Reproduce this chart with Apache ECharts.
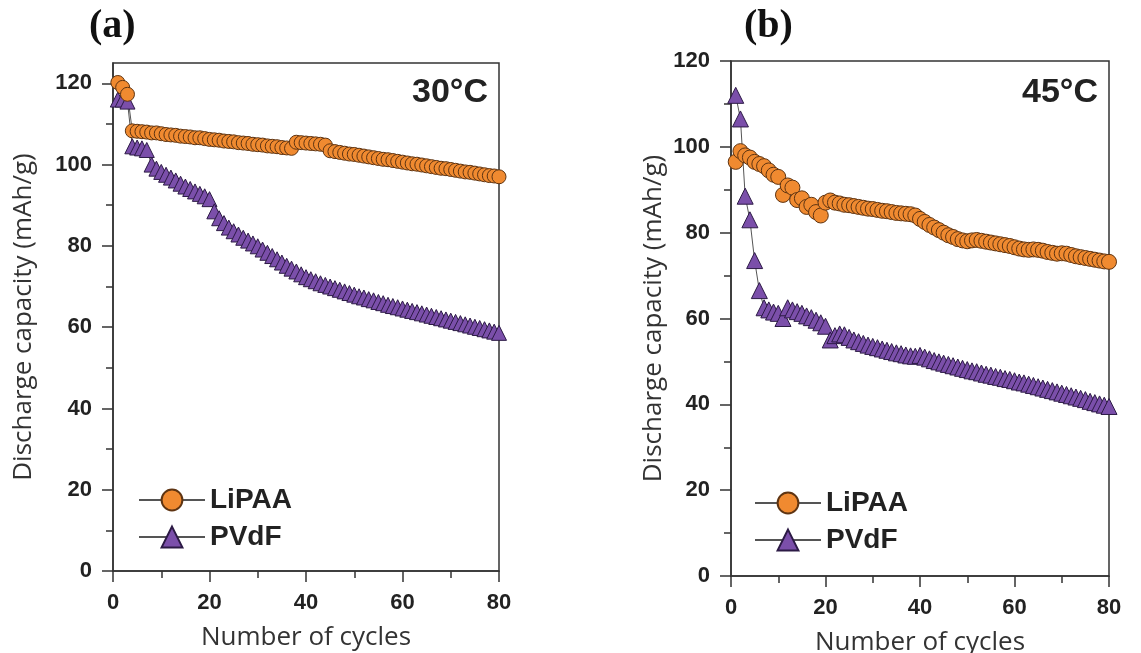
<!DOCTYPE html>
<html>
<head>
<meta charset="utf-8">
<title>Discharge capacity vs cycles</title>
<script src="https://cdn.jsdelivr.net/npm/echarts@6/dist/echarts.min.js"></script>
<style>
html, body { margin: 0; padding: 0; background: #fff; }
#chart { width: 1141px; height: 653px; }
</style>
</head>
<body>
<div id="chart"></div>
<script>
// cycle numbers (x)
const cycles = [1,2,3,4,5,6,7,8,9,10,11,12,13,14,15,16,17,18,19,20,
  21,22,23,24,25,26,27,28,29,30,31,32,33,34,35,36,37,38,39,40,
  41,42,43,44,45,46,47,48,49,50,51,52,53,54,55,56,57,58,59,60,
  61,62,63,64,65,66,67,68,69,70,71,72,73,74,75,76,77,78,79,80];

// (a) 30°C
const lipaa30 = [120.2,119.0,117.3,108.3,108.2,108.1,108.0,107.8,107.8,107.6,
  107.4,107.3,107.2,107.0,106.9,106.8,106.6,106.6,106.4,106.2,
  106.1,106.0,105.8,105.7,105.6,105.4,105.3,105.2,105.0,104.9,
  104.8,104.6,104.5,104.4,104.2,104.1,104.0,105.5,105.4,105.3,
  105.2,105.1,105.0,104.8,103.4,103.2,103.0,102.8,102.6,102.5,
  102.3,102.1,101.9,101.7,101.5,101.3,101.2,101.0,100.8,100.6,
  100.4,100.2,100.1,99.9,99.7,99.5,99.3,99.1,99.0,98.8,
  98.6,98.4,98.2,98.1,97.9,97.7,97.5,97.3,97.2,97.0];
const pvdf30 = [116.0,116.0,115.5,104.5,104.2,104.0,103.6,100.0,99.0,98.2,
  97.5,96.8,96.1,95.3,94.6,94.0,93.4,92.8,92.2,91.5,
  88.5,86.8,85.6,84.5,83.6,82.8,82.0,81.3,80.6,79.9,
  79.1,78.3,77.5,76.7,75.9,75.1,74.4,73.7,73.0,72.3,
  71.8,71.3,70.8,70.4,70.0,69.6,69.2,68.8,68.4,68.0,
  67.6,67.3,66.9,66.6,66.2,65.9,65.5,65.2,64.9,64.6,
  64.3,64.0,63.7,63.4,63.1,62.8,62.5,62.2,61.9,61.6,
  61.3,61.0,60.7,60.4,60.1,59.8,59.5,59.2,58.9,58.6];

// (b) 45°C
const lipaa45 = [96.5,99.0,98.0,97.5,96.5,96.0,95.5,94.5,93.5,93.0,
  88.8,91.0,90.5,87.6,88.0,86.0,86.5,84.8,84.0,87.0,
  87.5,87.0,86.8,86.5,86.4,86.2,86.0,85.8,85.6,85.5,
  85.3,85.1,85.0,84.8,84.6,84.5,84.4,84.3,84.0,83.2,
  82.5,81.8,81.2,80.6,80.0,79.4,79.0,78.5,78.2,78.0,
  78.2,78.3,78.1,77.9,77.7,77.5,77.3,77.1,76.9,76.6,
  76.3,76.1,76.0,76.1,76.0,75.8,75.5,75.3,75.1,75.2,
  75.1,74.8,74.5,74.3,74.1,73.9,73.7,73.5,73.3,73.2];
const pvdf45 = [112.0,106.5,88.5,83.0,73.5,66.5,62.5,62.0,61.5,61.2,
  60.0,62.5,62.0,61.6,61.2,60.6,60.2,59.6,59.0,58.2,
  55.0,56.0,56.4,56.2,55.6,55.0,54.6,54.2,53.8,53.5,
  53.2,52.9,52.6,52.3,52.0,51.8,51.5,51.3,51.2,51.4,
  51.0,50.6,50.2,49.9,49.6,49.3,49.0,48.7,48.4,48.1,
  47.8,47.6,47.3,47.0,46.8,46.5,46.3,46.0,45.8,45.5,
  45.2,45.0,44.7,44.4,44.1,43.8,43.5,43.2,42.9,42.6,
  42.3,42.0,41.7,41.4,41.1,40.7,40.4,40.1,39.8,39.5];

// tick values
const xTicks = [0, 20, 40, 60, 80];
const yTicks = [0, 20, 40, 60, 80, 100, 120];
const yMinorTicks = [10, 30, 50, 70, 90, 110];

const pairs = vals => cycles.map((c, i) => [c, vals[i]]);

const axisColor = '#333';
const labelStyle = {
  color: '#222', fontSize: 22, fontWeight: 'bold', fontFamily: 'Liberation Sans'
};
const nameStyle = {
  color: '#333', fontSize: 26, fontFamily: 'Open Sans'
};

function xAxisFor(gridIndex) {
  return {
    type: 'value', gridIndex: gridIndex, min: 0, max: 80, interval: 20,
    name: 'Number of cycles', nameLocation: 'middle', nameGap: 54,
    nameTextStyle: nameStyle,
    axisLine: { show: true, lineStyle: { color: axisColor, width: 1.5 } },
    axisTick: { show: true, length: 11, lineStyle: { color: axisColor, width: 1.5 } },
    minorTick: { show: true, splitNumber: 2, length: 7, lineStyle: { color: axisColor, width: 1.5 } },
    splitLine: { show: false },
    axisLabel: Object.assign({ margin: 21, customValues: xTicks }, labelStyle)
  };
}

function yAxisFor(gridIndex, max, nameGap) {
  return {
    type: 'value', gridIndex: gridIndex, position: 'left', min: 0, max: max,
    name: 'Discharge capacity (mAh/g)', nameLocation: 'middle', nameGap: nameGap,
    nameTextStyle: nameStyle,
    axisLine: { show: true, lineStyle: { color: axisColor, width: 1.5 } },
    axisTick: { show: true, length: 11, customValues: yTicks, lineStyle: { color: axisColor, width: 1.5 } },
    splitLine: { show: false },
    axisLabel: Object.assign({ margin: 21, customValues: yTicks }, labelStyle)
  };
}

// second axis on the same side, only for the small ticks
function yMinorFor(gridIndex, max) {
  return {
    type: 'value', gridIndex: gridIndex, position: 'left', offset: 0, min: 0, max: max,
    axisLine: { show: false },
    axisTick: { show: true, length: 7, customValues: yMinorTicks, lineStyle: { color: axisColor, width: 1.5 } },
    axisLabel: { show: false },
    splitLine: { show: false }
  };
}

const circleStyle = { color: '#F08A30', borderColor: '#5e3412', borderWidth: 1 };
const triStyle = { color: '#7B4FAA', borderColor: '#2c1a45', borderWidth: 1 };
const lineStyle = { color: '#555', width: 1 };

function legendAt(left, top) {
  return {
    left: left, top: top, orient: 'vertical', selectedMode: false,
    itemWidth: 66, itemHeight: 26, itemGap: 9,
    data: ['LiPAA', 'PVdF'],
    textStyle: { color: '#222', fontSize: 28, fontWeight: 'bold', fontFamily: 'Liberation Sans' }
  };
}

let chart = echarts.init(document.getElementById('chart'));

let option = {
  animation: false,
  backgroundColor: '#fff',
  grid: [
    { left: 113, top: 63, width: 386, height: 508, outerBoundsMode: 'none', show: true, borderColor: axisColor, borderWidth: 1.5 },
    { left: 731, top: 61, width: 378, height: 515, outerBoundsMode: 'none', show: true, borderColor: axisColor, borderWidth: 1.5 }
  ],
  xAxis: [xAxisFor(0), xAxisFor(1)],
  yAxis: [
    yAxisFor(0, 125, 76),
    yMinorFor(0, 125),
    yAxisFor(1, 120, 64),
    yMinorFor(1, 120)
  ],
  legend: [legendAt(133, 481), legendAt(749, 484)],
  graphic: [
    { type: 'text', left: 89, top: 7, style: { text: '(a)', fontSize: 40, fontWeight: 'bold', fontFamily: 'Liberation Serif', fill: '#111' } },
    { type: 'text', left: 744, top: 7, style: { text: '(b)', fontSize: 40, fontWeight: 'bold', fontFamily: 'Liberation Serif', fill: '#111' } },
    { type: 'text', right: 1141 - 488, top: 76, style: { text: '30°C', fontSize: 34, fontWeight: 'bold', fontFamily: 'Liberation Sans', fill: '#222' } },
    { type: 'text', right: 1141 - 1098, top: 76, style: { text: '45°C', fontSize: 34, fontWeight: 'bold', fontFamily: 'Liberation Sans', fill: '#222' } }
  ],
  series: [
    {
      name: 'PVdF', type: 'line', xAxisIndex: 0, yAxisIndex: 0,
      data: pairs(pvdf30), symbol: 'triangle', symbolSize: 15,
      itemStyle: triStyle, lineStyle: lineStyle
    },
    {
      name: 'LiPAA', type: 'line', xAxisIndex: 0, yAxisIndex: 0,
      data: pairs(lipaa30), symbol: 'circle', symbolSize: 14,
      itemStyle: circleStyle, lineStyle: lineStyle
    },
    {
      name: 'PVdF', type: 'line', xAxisIndex: 1, yAxisIndex: 2,
      data: pairs(pvdf45), symbol: 'triangle', symbolSize: 16,
      itemStyle: triStyle, lineStyle: lineStyle
    },
    {
      name: 'LiPAA', type: 'line', xAxisIndex: 1, yAxisIndex: 2,
      data: pairs(lipaa45), symbol: 'circle', symbolSize: 15,
      itemStyle: circleStyle, lineStyle: lineStyle
    }
  ]
};

chart.setOption(option);
</script>
</body>
</html>
